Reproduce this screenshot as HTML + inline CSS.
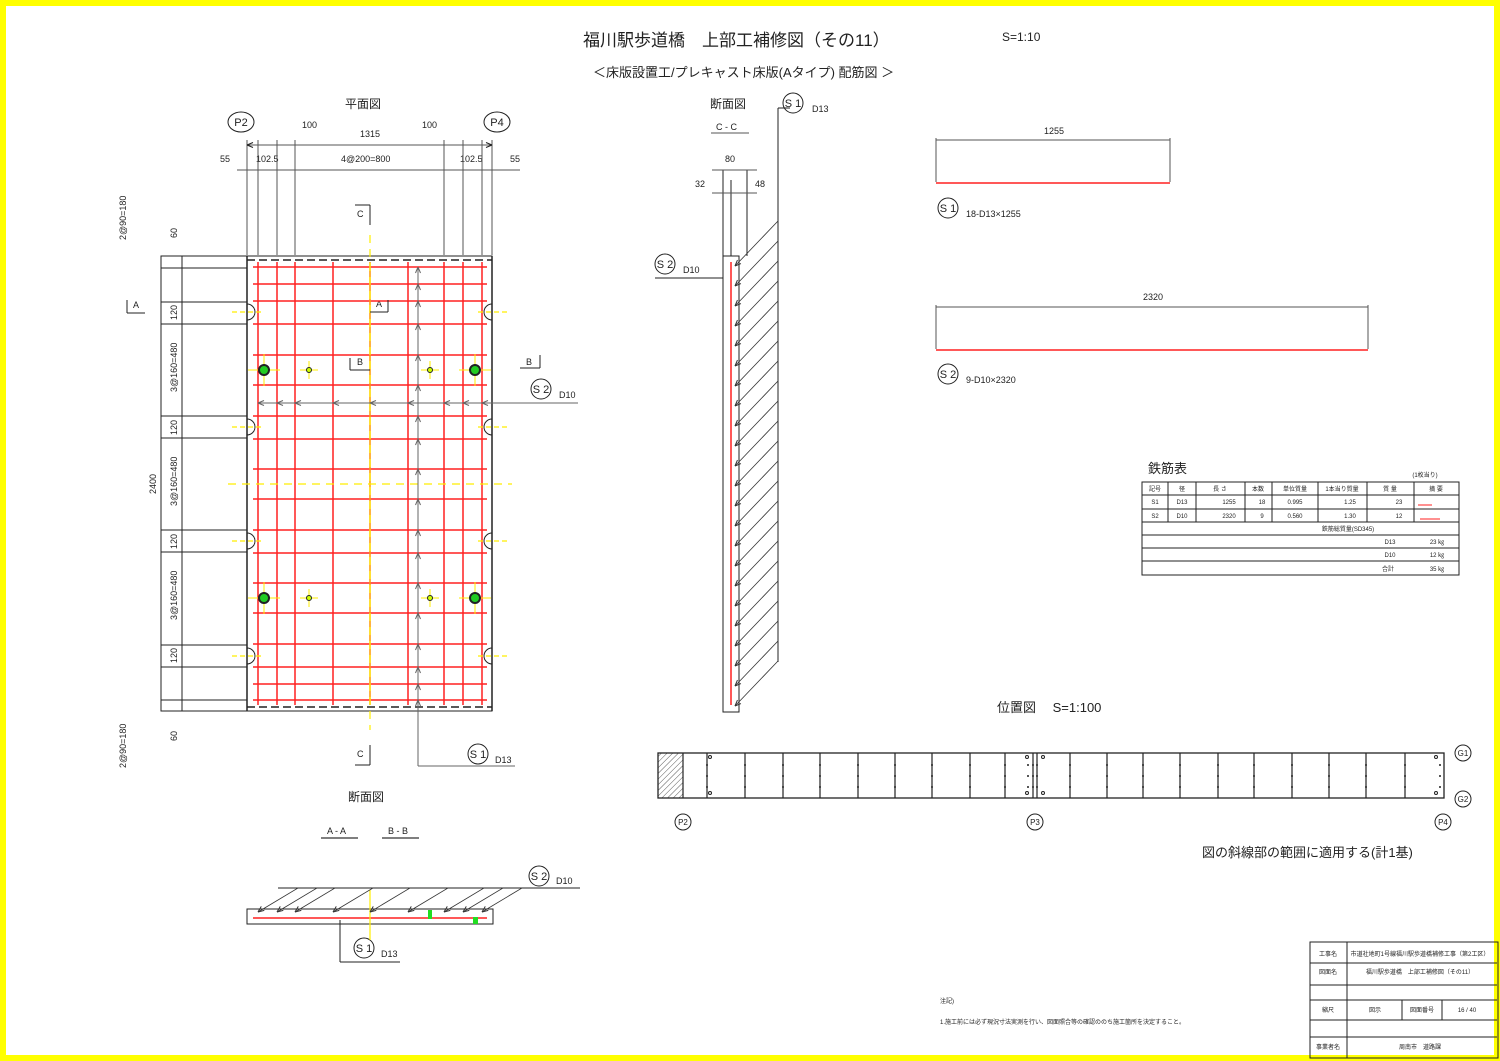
<!DOCTYPE html>
<html><head><meta charset="utf-8"><style>
html,body{margin:0;padding:0;background:#fff}
svg{display:block}
text{font-family:"Liberation Sans","Noto Sans CJK JP",sans-serif;fill:#222}
</style></head><body>
<svg id="s" width="1500" height="1061" viewBox="0 0 1500 1061" xmlns="http://www.w3.org/2000/svg">
<defs><pattern id="h" width="4" height="4" patternUnits="userSpaceOnUse" patternTransform="rotate(45)"><line x1="0" y1="0" x2="0" y2="4" stroke="#333" stroke-width="0.8"/></pattern></defs>
<rect x="3" y="3" width="1494" height="1055" fill="#fff" stroke="#ffff00" stroke-width="6"/>
<g font-size="17"><text x="583" y="46">福川駅歩道橋　上部工補修図（その11）</text></g>
<text x="1002" y="41" font-size="12">S=1:10</text>
<text x="593" y="77" font-size="13">＜床版設置工/プレキャスト床版(Aタイプ) 配筋図 ＞</text>
<text x="345" y="108" font-size="12">平面図</text>
<text x="710" y="108" font-size="12">断面図</text>
<text x="348" y="801" font-size="12">断面図</text>
<text x="997" y="712" font-size="13">位置図　 S=1:100</text>
<text x="1202" y="857" font-size="13">図の斜線部の範囲に適用する(計1基)</text>
<text x="1148" y="473" font-size="13">鉄筋表</text>
<g font-size="9">
<text x="302" y="128">100</text><text x="422" y="128">100</text><text x="360" y="137">1315</text>
<text x="220" y="162">55</text><text x="256" y="162">102.5</text><text x="341" y="162">4@200=800</text><text x="460" y="162">102.5</text><text x="510" y="162">55</text>
<text x="716" y="130">C - C</text><text x="725" y="162">80</text><text x="695" y="187">32</text><text x="755" y="187">48</text>
<text x="1044" y="134">1255</text><text x="1143" y="300">2320</text>
<text x="966" y="217">18-D13×1255</text><text x="966" y="383">9-D10×2320</text>
<text x="812" y="112">D13</text><text x="683" y="273">D10</text><text x="559" y="398">D10</text><text x="495" y="763">D13</text>
<text x="556" y="884">D10</text><text x="381" y="957">D13</text>
<text x="327" y="834">A - A</text><text x="388" y="834">B - B</text>
<text x="357" y="217">C</text><text x="357" y="757">C</text><text x="133" y="308">A</text><text x="376" y="307">A</text><text x="357" y="365">B</text><text x="526" y="365">B</text>
</g>
<g font-size="9">
<text transform="translate(177,238) rotate(-90)">60</text>
<text transform="translate(177,320) rotate(-90)">120</text>
<text transform="translate(177,392) rotate(-90)">3@160=480</text>
<text transform="translate(177,435) rotate(-90)">120</text>
<text transform="translate(177,506) rotate(-90)">3@160=480</text>
<text transform="translate(177,549) rotate(-90)">120</text>
<text transform="translate(177,620) rotate(-90)">3@160=480</text>
<text transform="translate(177,663) rotate(-90)">120</text>
<text transform="translate(177,741) rotate(-90)">60</text>
<text transform="translate(156,494) rotate(-90)">2400</text>
<text transform="translate(126,240) rotate(-90)">2@90=180</text>
<text transform="translate(126,768) rotate(-90)">2@90=180</text>
</g>
<g font-size="11" text-anchor="middle">
<ellipse cx="241" cy="122" rx="13" ry="10" fill="none" stroke="#222"/><text x="241" y="126">P2</text>
<ellipse cx="497" cy="122" rx="13" ry="10" fill="none" stroke="#222"/><text x="497" y="126">P4</text>
<circle cx="793" cy="103" r="10" fill="none" stroke="#222"/><text x="793" y="107">S 1</text>
<circle cx="665" cy="264" r="10" fill="none" stroke="#222"/><text x="665" y="268">S 2</text>
<circle cx="541" cy="389" r="10" fill="none" stroke="#222"/><text x="541" y="393">S 2</text>
<circle cx="478" cy="754" r="10" fill="none" stroke="#222"/><text x="478" y="758">S 1</text>
<circle cx="539" cy="876" r="10" fill="none" stroke="#222"/><text x="539" y="880">S 2</text>
<circle cx="364" cy="948" r="10" fill="none" stroke="#222"/><text x="364" y="952">S 1</text>
<circle cx="948" cy="208" r="10" fill="none" stroke="#222"/><text x="948" y="212">S 1</text>
<circle cx="948" cy="374" r="10" fill="none" stroke="#222"/><text x="948" y="378">S 2</text>
</g>
<g font-size="8" text-anchor="middle">
<circle cx="683" cy="822" r="8" fill="none" stroke="#222"/><text x="683" y="825">P2</text>
<circle cx="1035" cy="822" r="8" fill="none" stroke="#222"/><text x="1035" y="825">P3</text>
<circle cx="1443" cy="822" r="8" fill="none" stroke="#222"/><text x="1443" y="825">P4</text>
<circle cx="1463" cy="753" r="8" fill="none" stroke="#222"/><text x="1463" y="756">G1</text>
<circle cx="1463" cy="799" r="8" fill="none" stroke="#222"/><text x="1463" y="802">G2</text>
</g>
<g font-size="6" text-anchor="middle">
<text x="1425" y="477">(1枚当り)</text>
<text x="1155" y="491">記号</text><text x="1182" y="491">径</text><text x="1220" y="491">長 さ</text><text x="1258" y="491">本数</text><text x="1295" y="491">単位質量</text><text x="1342" y="491">1本当り質量</text><text x="1390" y="491">質 量</text><text x="1436" y="491">摘 要</text>
<text x="1155" y="504">S1</text><text x="1182" y="504">D13</text><text x="1229" y="504">1255</text><text x="1262" y="504">18</text><text x="1295" y="504">0.995</text><text x="1350" y="504">1.25</text><text x="1399" y="504">23</text>
<text x="1155" y="518">S2</text><text x="1182" y="518">D10</text><text x="1229" y="518">2320</text><text x="1262" y="518">9</text><text x="1295" y="518">0.560</text><text x="1350" y="518">1.30</text><text x="1399" y="518">12</text>
<text x="1348" y="531">鉄筋総質量(SD345)</text>
<text x="1390" y="544">D13</text><text x="1437" y="544">23 ㎏</text>
<text x="1390" y="557">D10</text><text x="1437" y="557">12 ㎏</text>
<text x="1388" y="571">合計</text><text x="1437" y="571">35 ㎏</text>
</g>
<g font-size="6" text-anchor="middle">
<text x="1328" y="956">工事名</text><text x="1420" y="956">市道社地町1号線福川駅歩道橋補修工事（第2工区）</text>
<text x="1328" y="974">図面名</text><text x="1420" y="974">福川駅歩道橋　上部工補修図（その11）</text>
<text x="1328" y="1012">縮尺</text><text x="1375" y="1012">図示</text><text x="1422" y="1012">図面番号</text><text x="1467" y="1012">16 / 40</text>
<text x="1328" y="1049">事業者名</text><text x="1420" y="1049">周南市　道路課</text>
</g>
<text x="940" y="1003" font-size="6">注記)</text>
<text x="940" y="1024" font-size="6">1.施工前には必ず現況寸法実測を行い、図面照合等の確認ののち施工箇所を決定すること。</text>
<g id="g" fill="none" stroke="#222" stroke-width="1"></g>
</svg>
<script>
const g=document.getElementById('g');const NS='http://www.w3.org/2000/svg';
function el(t,a){const e=document.createElementNS(NS,t);for(const k in a)e.setAttribute(k,a[k]);g.appendChild(e);return e;}
function L(x1,y1,x2,y2,c,w,d){const a={x1,y1,x2,y2,stroke:c||'#222','stroke-width':w||1};if(d)a['stroke-dasharray']=d;el('line',a);}
function arrow(x,y,dx,dy,c){const l=6,s=2.5;L(x,y,x-dx*l-dy*s,y-dy*l+dx*s,c);L(x,y,x-dx*l+dy*s,y-dy*l-dx*s,c);}
el('rect',{x:161,y:256,width:331,height:455});
L(182,256,182,711);
[268,302,324,416,438,530,552,645,667,700].forEach(y=>L(161,y,247,y));
L(247,256,247,711,'#222',1.5);L(492,256,492,711,'#222',1.5);
L(247,260,492,260,'#222',1.5,'8 4');L(247,707,492,707,'#222',1.5,'8 4');
[247,258,277,295,444,463,482,492].forEach(x=>L(x,140,x,255,'#555'));
L(247,145,492,145,'#555');arrow(247,145,-1,0);arrow(492,145,1,0);
L(237,170,520,170,'#555');
const ys=[267,284,301,324,355,385,416,439,469,499,530,553,583,613,644,667,684,700];
ys.forEach(y=>L(253,y,487,y,'#ff2020',1.5));
[258,277,295,333,408,444,463,482].forEach(x=>L(x,262,x,705,'#ff2020',1.5));
L(370,262,370,705,'#ff9900',1.5);
L(370,235,370,730,'#ffee00',1.2,'8 6');L(228,484,512,484,'#ffee00',1.2,'8 6');
[312,427,541,656].forEach(y=>{el('path',{d:`M247 ${y-8} a8 8 0 0 1 0 16`});el('path',{d:`M492 ${y-8} a8 8 0 0 0 0 16`});
 L(232,y,262,y,'#ffee00',1.2,'5 3');L(478,y,508,y,'#ffee00',1.2,'5 3');});
[[264,370],[475,370],[264,598],[475,598]].forEach(([x,y])=>{L(x-16,y,x+16,y,'#ffee00');L(x,y-16,x,y+16,'#ffee00');el('circle',{cx:x,cy:y,r:5,fill:'#22cc22',stroke:'#222','stroke-width':2});});
[[309,370],[430,370],[309,598],[430,598]].forEach(([x,y])=>{L(x-9,y,x+9,y,'#ffee00');L(x,y-9,x,y+9,'#ffee00');el('circle',{cx:x,cy:y,r:2.5,fill:'#ccff00',stroke:'#222','stroke-width':1});});
L(258,403,578,403,'#666');[258,277,295,333,370,408,444,463,482].forEach(x=>arrow(x,403,-1,0,'#666'));
L(418,268,418,766,'#666');L(418,766,515,766,'#666');ys.forEach(y=>arrow(418,y,0,-1,'#666'));
L(370,205,370,225);L(355,205,370,205);L(370,745,370,765);L(355,765,370,765);
L(127,313,145,313);L(127,300,127,313);L(370,312,388,312);L(388,300,388,312);
L(350,370,370,370);L(350,358,350,370);L(520,368,540,368);L(540,355,540,368);
el('rect',{x:723,y:256,width:16,height:456});
L(731,180,731,256);L(723,170,723,256);L(747,170,747,256);
L(712,170,757,170,'#555');L(712,193,757,193,'#555');L(711,133,749,133,'#555');
L(731,262,731,705,'#ff2020',1.5);
L(778,108,778,662);L(778,108,790,108);
for(let y=266;y<=706;y+=20){L(735,y,778,y-45,'#333',0.8);arrow(735,y,-0.7,0.7,'#333');}
L(655,278,723,278);
el('rect',{x:247,y:909,width:246,height:15});
L(253,918,487,918,'#ff2020',1.5);L(370,890,370,940,'#ffee00',1.2);
L(278,888,580,888);
[258,277,295,333,370,408,444,463,482].forEach(x=>{const y=912;L(x,y,x+40,y-24,'#333',0.8);arrow(x,y,-0.8,0.6,'#333');});
el('rect',{x:428,y:910,width:4,height:9,fill:'#22dd22',stroke:'none'});el('rect',{x:473,y:917,width:5,height:7,fill:'#22dd22',stroke:'none'});
L(340,920,340,962);L(340,962,400,962);L(321,838,358,838,'#555',1.5);L(382,838,419,838,'#555',1.5);
L(936,140,1170,140,'#555');L(936,138,936,182,'#555');L(1170,138,1170,182,'#555');L(936,183,1170,183,'#ff2020',1.5);
L(936,307,1368,307,'#555');L(936,305,936,349,'#555');L(1368,305,1368,349,'#555');L(936,350,1368,350,'#ff2020',1.5);
el('rect',{x:1142,y:482,width:317,height:93});
[495,509,522,535,548,561].forEach(y=>L(1142,y,1459,y));
[1168,1196,1245,1272,1318,1367,1414].forEach(x=>L(x,482,x,522));
L(1418,505,1432,505,'#ff2020');L(1420,519,1440,519,'#ff2020');
el('rect',{x:658,y:753,width:25,height:45,fill:'url(#h)'});
el('rect',{x:658,y:753,width:786,height:45,'stroke-width':1.3});
const xs=[683,707,745,783,820,858,895,932,970,1005,1033,1037,1070,1107,1143,1180,1218,1254,1292,1329,1366,1405];
xs.forEach(x=>L(x,753,x,798,'#222',1.2));
xs.slice(1).forEach(x=>{[765,776,787].forEach(y=>el('circle',{cx:x,cy:y,r:1,fill:'#222',stroke:'none'}));});
[[710,757],[710,793],[1027,757],[1027,793],[1043,757],[1043,793],[1436,757],[1436,793]].forEach(([x,y])=>el('circle',{cx:x,cy:y,r:1.5}));
[765,776,787].forEach(y=>{el('circle',{cx:1028,cy:y,r:1,fill:'#222',stroke:'none'});el('circle',{cx:1440,cy:y,r:1,fill:'#222',stroke:'none'});});
el('rect',{x:1310,y:942,width:188,height:116});
[963,985,1000,1020,1037].forEach(y=>L(1310,y,1497,y));L(1347,942,1347,1058);L(1402,1000,1402,1020);L(1442,1000,1442,1020);
</script>
</body></html>
